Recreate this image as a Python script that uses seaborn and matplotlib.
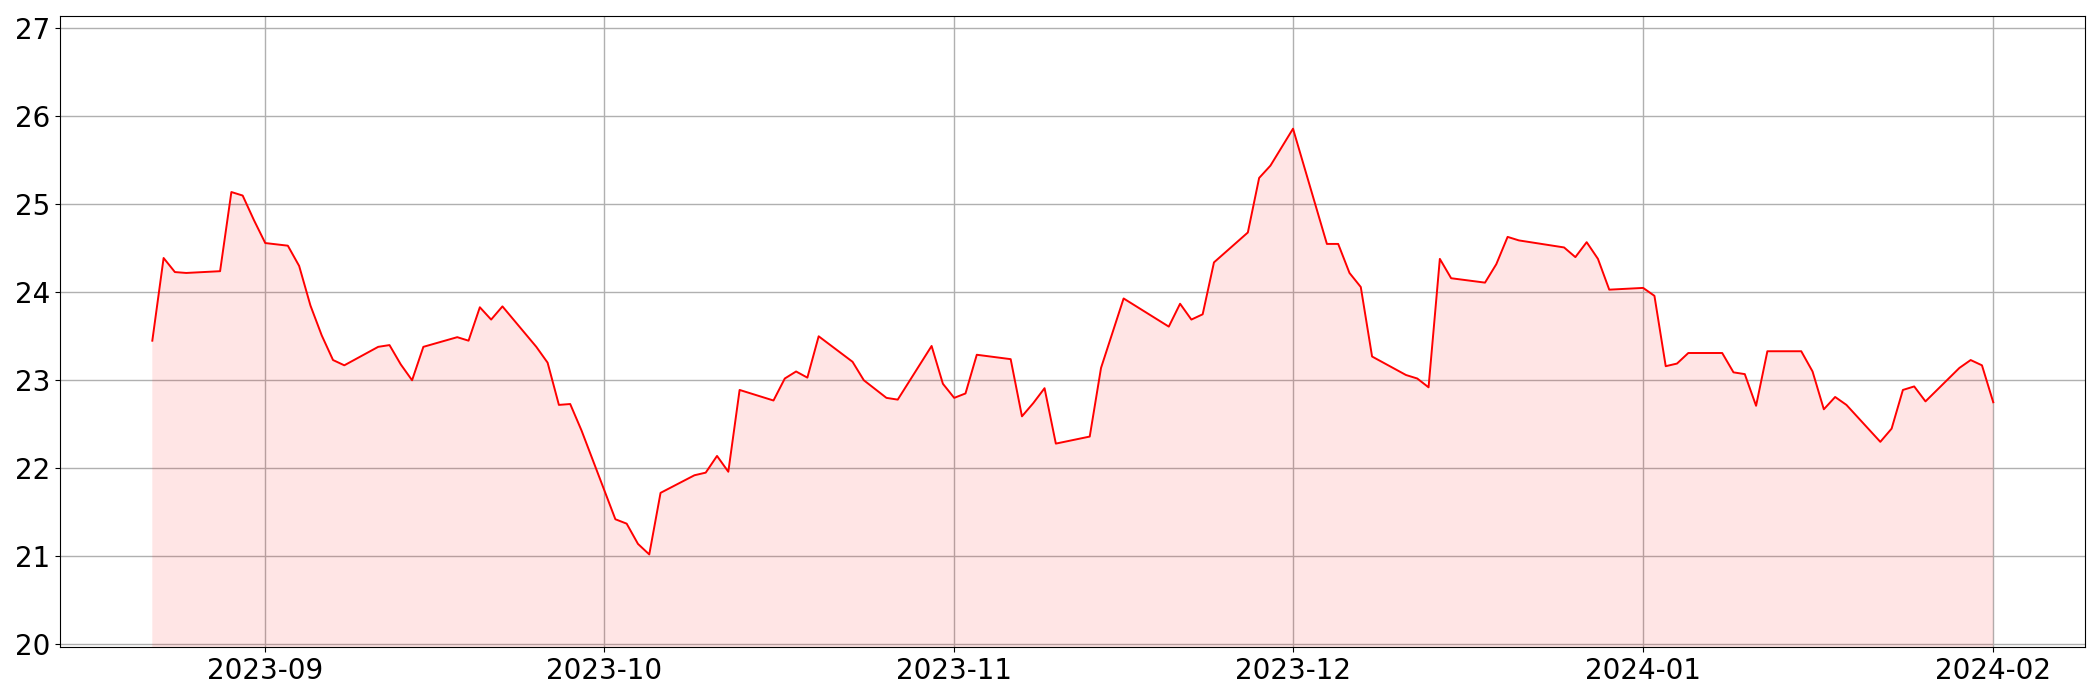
import matplotlib
matplotlib.use("Agg")
import matplotlib.pyplot as plt
import matplotlib.dates as mdates
import seaborn as sns
import pandas as pd

dates = [
    "2023-08-22", "2023-08-23", "2023-08-24", "2023-08-25",
    "2023-08-28", "2023-08-29", "2023-08-30", "2023-08-31", "2023-09-01",
    "2023-09-03", "2023-09-04", "2023-09-05", "2023-09-06", "2023-09-07", "2023-09-08",
    "2023-09-11", "2023-09-12", "2023-09-13", "2023-09-14", "2023-09-15",
    "2023-09-18", "2023-09-19", "2023-09-20", "2023-09-21", "2023-09-22",
    "2023-09-25", "2023-09-26", "2023-09-27", "2023-09-28", "2023-09-29",
    "2023-10-02", "2023-10-03", "2023-10-04", "2023-10-05", "2023-10-06",
    "2023-10-09", "2023-10-10", "2023-10-11", "2023-10-12", "2023-10-13",
    "2023-10-16", "2023-10-17", "2023-10-18", "2023-10-19", "2023-10-20",
    "2023-10-23", "2023-10-24", "2023-10-26", "2023-10-27",
    "2023-10-30", "2023-10-31", "2023-11-01", "2023-11-02", "2023-11-03",
    "2023-11-06", "2023-11-07", "2023-11-08", "2023-11-09", "2023-11-10",
    "2023-11-13", "2023-11-14", "2023-11-16",
    "2023-11-20", "2023-11-21", "2023-11-22", "2023-11-23", "2023-11-24",
    "2023-11-27", "2023-11-28", "2023-11-29", "2023-12-01",
    "2023-12-04", "2023-12-05", "2023-12-06", "2023-12-07", "2023-12-08",
    "2023-12-11", "2023-12-12", "2023-12-13", "2023-12-14", "2023-12-15",
    "2023-12-18", "2023-12-19", "2023-12-20", "2023-12-21",
    "2023-12-25", "2023-12-26", "2023-12-27", "2023-12-28", "2023-12-29",
    "2024-01-01", "2024-01-02", "2024-01-03", "2024-01-04", "2024-01-05",
    "2024-01-08", "2024-01-09", "2024-01-10", "2024-01-11", "2024-01-12",
    "2024-01-15", "2024-01-16", "2024-01-17", "2024-01-18", "2024-01-19",
    "2024-01-22", "2024-01-23", "2024-01-24", "2024-01-25", "2024-01-26",
    "2024-01-29", "2024-01-30", "2024-01-31", "2024-02-01",
]

values = [
    23.45, 24.39, 24.23, 24.22,
    24.24, 25.14, 25.10, 24.82, 24.56,
    24.53, 24.30, 23.85, 23.51, 23.23, 23.17,
    23.38, 23.40, 23.18, 23.00, 23.38,
    23.49, 23.45, 23.83, 23.69, 23.84,
    23.38, 23.20, 22.72, 22.73, 22.43,
    21.42, 21.37, 21.14, 21.02, 21.72,
    21.92, 21.95, 22.14, 21.96, 22.89,
    22.77, 23.02, 23.10, 23.03, 23.50,
    23.21, 23.00, 22.80, 22.78,
    23.39, 22.96, 22.80, 22.85, 23.29,
    23.24, 22.59, 22.74, 22.91, 22.28,
    22.36, 23.14, 23.93,
    23.61, 23.87, 23.69, 23.75, 24.34,
    24.68, 25.30, 25.44, 25.86,
    24.55, 24.55, 24.22, 24.06, 23.27,
    23.06, 23.02, 22.92, 24.38, 24.16,
    24.11, 24.32, 24.63, 24.59,
    24.51, 24.40, 24.57, 24.38, 24.03,
    24.05, 23.96, 23.16, 23.19, 23.31,
    23.31, 23.09, 23.07, 22.71, 23.33,
    23.33, 23.10, 22.67, 22.81, 22.72,
    22.30, 22.45, 22.89, 22.93, 22.76,
    23.14, 23.23, 23.17, 22.75,
]

yticks = [20, 21, 22, 23, 24, 25, 26, 27]

df = pd.DataFrame({"date": pd.to_datetime(dates), "value": values})

fig, ax = plt.subplots(figsize=(21, 7), dpi=100)
fig.subplots_adjust(left=0.0287, right=0.993, top=0.977, bottom=0.076)

ax.fill_between(df["date"], df["value"], 0, color="red", alpha=0.1, linewidth=0)
sns.lineplot(data=df, x="date", y="value", ax=ax, color="red", linewidth=1.4)

ax.set_ylim(19.97, 27.14)
ax.set_yticks(yticks)
ax.set_xlabel("")
ax.set_ylabel("")
ax.xaxis.set_major_locator(mdates.MonthLocator())
ax.xaxis.set_major_formatter(mdates.DateFormatter("%Y-%m"))
ax.tick_params(axis="both", labelsize=20)
ax.grid(True, color="#b0b0b0", linewidth=1.0)
ax.set_axisbelow(True)

fig.savefig("out.png", dpi=100)
